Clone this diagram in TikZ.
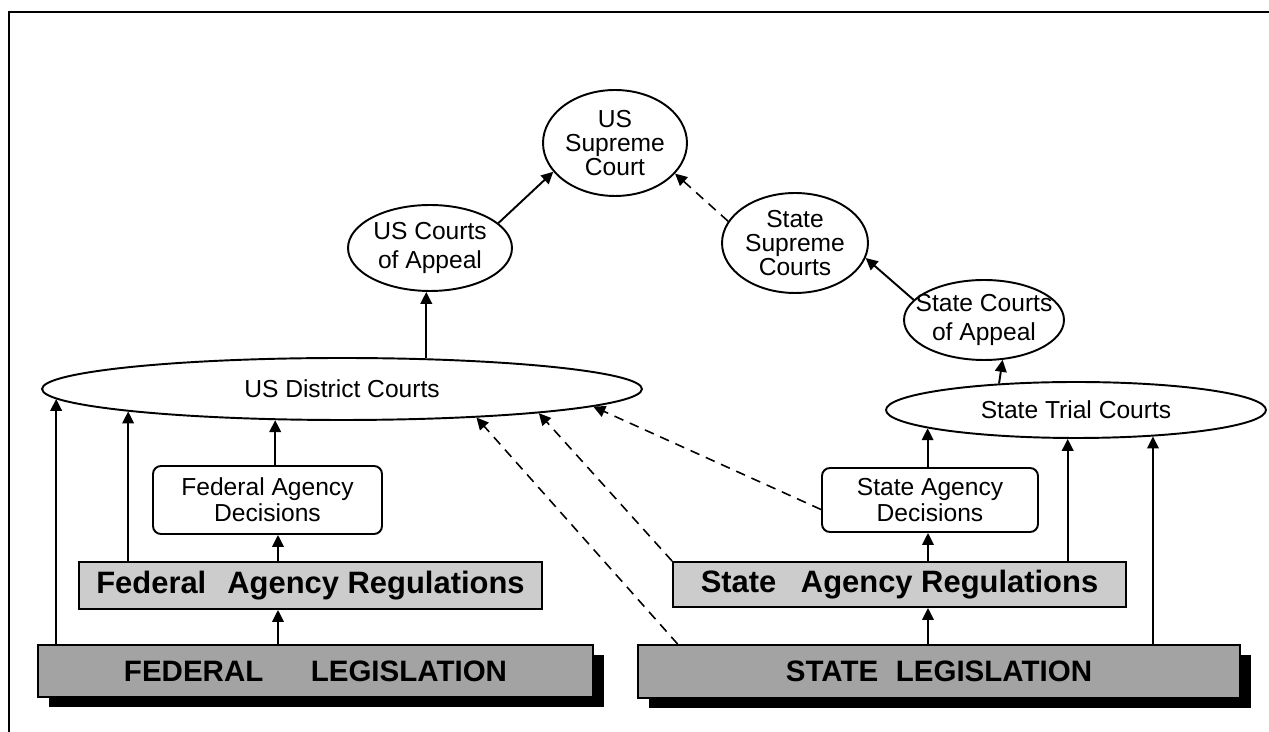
\documentclass[tikz,border=0pt]{standalone}
\usepackage{fontspec}
\setmainfont{Liberation Sans}
\usetikzlibrary{shapes.geometric, arrows.meta, shadows}

\definecolor{regfill}{gray}{0.8}
\definecolor{legfill}{gray}{0.64}

\tikzset{
	court/.style = {ellipse, draw, line width = 1.1pt, inner sep = 0pt, align = center, font = \fontsize{14}{16}\selectfont},
	supreme/.style = {court, font = {\fontsize{14}{13.5}\selectfont\lineskiplimit=-20pt\relax}},
	decision/.style = {rectangle, rounded corners = 4.5pt, draw, line width = 1.1pt, inner sep = 0pt, align = center, font = \fontsize{14}{15}\selectfont},
	regulation/.style = {rectangle, draw, fill = regfill, line width = 1.1pt, inner sep = 0pt, font = \fontsize{17.6}{20}\selectfont\bfseries},
	legislation/.style = {rectangle, draw, fill = legfill, line width = 1.1pt, inner sep = 0pt, font = \fontsize{16.8}{20}\selectfont\bfseries,
		drop shadow = {shadow xshift = 0.22cm, shadow yshift = -0.2cm, fill = black, opacity = 1}},
	link/.style = {->, line width = 1.1pt},
	appeal/.style = {->, line width = 0.9pt, dash pattern = on 5.5pt off 4pt}
}

\begin{document}
\begin{tikzpicture}[x = 0.02cm, y = -0.02cm, >={Triangle[length = 6.8pt, width = 6.6pt]}]
				%	frame setup
				
				\def\xmax{1269}
				\def\ymax{732}
				
				\useasboundingbox (0, 0) rectangle (\xmax, \ymax);
				\draw[line width = 1.2pt] (\xmax, 12) -- (9, 12) -- (9, \ymax);
				
				%	federal courts
				\node[supreme, minimum width = 2.88cm, minimum height = 2.12cm] (ussup) at (615, 143) {US\\Supreme\\Court};
				\node[court, minimum width = 3.28cm, minimum height = 1.72cm] (usapp) at (430, 248) {US Courts\\of Appeal};
				\node[court, minimum width = 12cm, minimum height = 1.24cm] (usdist) at (342, 389) {US District Courts};
				\node[decision, minimum width = 4.58cm, minimum height = 1.36cm] (feddec) at (267.5, 500) {Federal Agency\\Decisions};
				\node[regulation, minimum width = 9.26cm, minimum height = 0.94cm] (fedreg) at (310.5, 585.5) {Federal\hspace{12pt}Agency Regulations};
				\node[legislation, minimum width = 11.1cm, minimum height = 1.04cm] (fedleg) at (315.5, 671) {FEDERAL\hspace{27pt}LEGISLATION};
				
				%	state courts
				\node[supreme, minimum width = 2.92cm, minimum height = 2cm] (stsup) at (795, 243) {State\\Supreme\\Courts};
				\node[court, inner xsep = -7pt, minimum width = 3.2cm, minimum height = 1.6cm] (stapp) at (984, 320) {State Courts\\of Appeal};
				\node[court, minimum width = 7.6cm, minimum height = 1.12cm] (sttrial) at (1076, 410) {State Trial Courts};
				\node[decision, minimum width = 4.32cm, minimum height = 1.28cm] (stdec) at (930, 500) {State Agency\\Decisions};
				\node[regulation, minimum width = 9.06cm, minimum height = 0.9cm] (streg) at (899.5, 584.5) {State\hspace{14pt}Agency Regulations};
				\node[legislation, minimum width = 12.04cm, minimum height = 1.06cm] (stleg) at (939, 671.5) {STATE\hspace{10pt}LEGISLATION};
				
				\coordinate (fedcol) at (278, 0);
				\coordinate (stcol) at (928, 0);
				
				%	federal arrows
				\draw[link] (fedcol |- fedleg.north) -- (fedcol |- fedreg.south);
				\draw[link] (fedcol |- fedreg.north) -- (fedcol |- feddec.south);
				\draw[link] (usdist.182 |- fedleg.north) -- (usdist.182);
				\draw[link] (usdist.186 |- fedreg.north) -- (usdist.186);
				\draw[link] (usdist.205 |- feddec.north) -- (usdist.205);
				\draw[link] (usdist.20) -- (usdist.20 |- usapp.south);
				\draw[link] (usapp.20) -- (ussup.205);
				
				%	state arrows
				\draw[link] (stcol |- stleg.north) -- (stcol |- streg.south);
				\draw[link] (stcol |- streg.north) -- (stcol |- stdec.south);
				\draw[link] (sttrial.187 |- stdec.north) -- (sttrial.187);
				\draw[link] (sttrial.254 |- streg.north) -- (sttrial.254);
				\draw[link] (sttrial.341 |- stleg.north) -- (sttrial.341);
				\draw[link] (sttrial.161) -- (stapp.295);
				\draw[link] (stapp.164) -- (stsup.348);
				
				%	state cases into federal courts
				\draw[appeal] (stsup.162) -- (ussup.333);
				\draw[appeal] (stleg.174) -- (usdist.348);
				\draw[appeal] (streg.north west) -- (usdist.353);
				\draw[appeal] (stdec.185) -- (usdist.356);
\end{tikzpicture}
\end{document}
